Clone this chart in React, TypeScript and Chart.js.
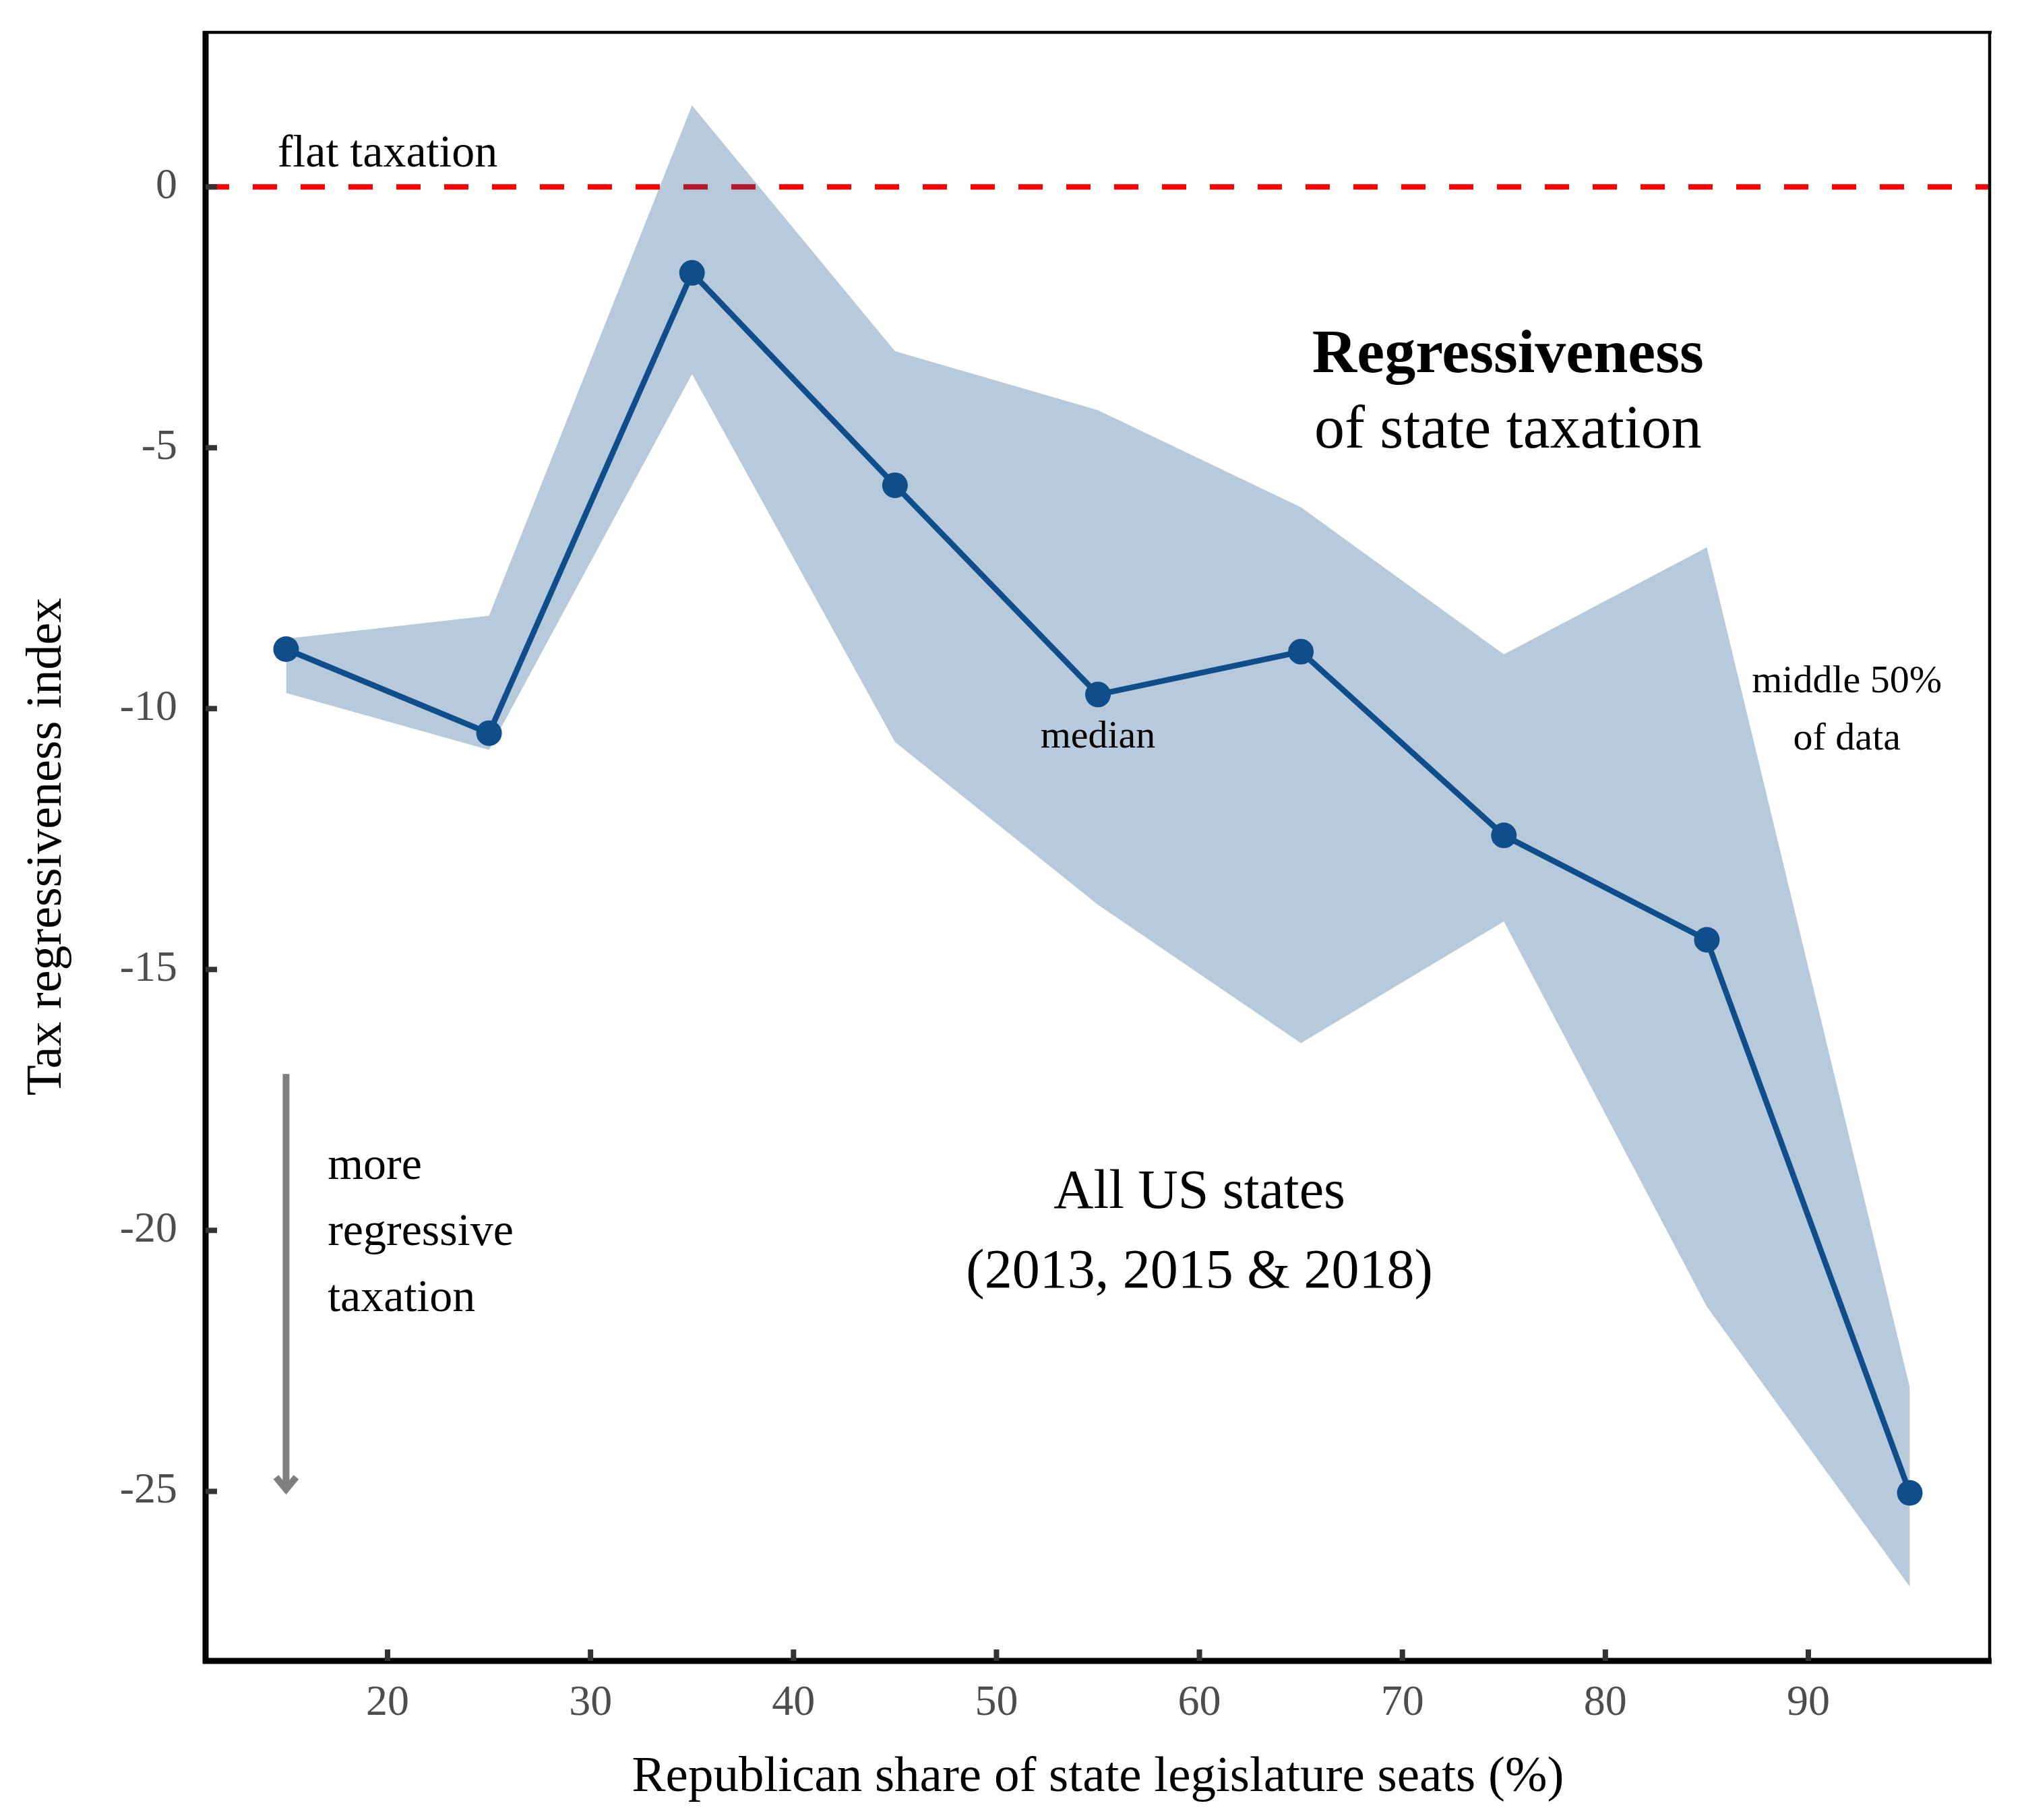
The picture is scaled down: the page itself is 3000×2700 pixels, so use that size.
import React, { useEffect, useRef } from "react";
import { Chart, registerables } from "chart.js";

Chart.register(...registerables);

// ---- data ----
const X_VALUES = [15, 25, 35, 45, 55, 65, 75, 85, 95];
const MEDIAN = [-8.86, -10.47, -1.65, -5.72, -9.73, -8.91, -12.43, -14.43, -25.03];
const UPPER_QUARTILE = [-8.66, -8.22, 1.56, -3.15, -4.28, -6.14, -8.96, -6.91, -23.01];
const LOWER_QUARTILE = [-9.7, -10.79, -3.59, -10.64, -13.76, -16.41, -14.08, -21.46, -26.83];
const FLAT_LEVEL = 0;

const X_TICKS = [20, 30, 40, 50, 60, 70, 80, 90];
const X_TICK_LABELS = ["20", "30", "40", "50", "60", "70", "80", "90"];
const Y_TICKS = [0, -5, -10, -15, -20, -25];
const Y_TICK_LABELS = ["0", "-5", "-10", "-15", "-20", "-25"];
const X_RANGE = [11, 99];
const Y_RANGE = [-28.25, 2.96];

const X_TITLE = "Republican share of state legislature seats (%)";
const Y_TITLE = "Tax regressiveness index";

// ---- styling ----
const FONT = '"Liberation Serif", "Times New Roman", serif';
const LINE_COLOR = "#104E8B";
const BAND_COLOR = "rgba(16,78,139,0.3)";

type Note = { text: string; x: number; y: number; size: number; bold?: boolean; align?: CanvasTextAlign };
const NOTES: Note[] = [
  { text: "flat taxation", x: 20, y: 0.39, size: 68 },
  { text: "Regressiveness", x: 75.2, y: -3.55, size: 92, bold: true },
  { text: "of state taxation", x: 75.2, y: -5.0, size: 90 },
  { text: "median", x: 55, y: -10.74, size: 58 },
  { text: "middle 50%", x: 91.9, y: -9.69, size: 58 },
  { text: "of data", x: 91.9, y: -10.79, size: 58 },
  { text: "more", x: 17.05, y: -19.02, size: 68, align: "left" },
  { text: "regressive", x: 17.05, y: -20.28, size: 68, align: "left" },
  { text: "taxation", x: 17.05, y: -21.55, size: 68, align: "left" },
  { text: "All US states", x: 60, y: -19.57, size: 82 },
  { text: "(2013, 2015 & 2018)", x: 60, y: -21.09, size: 82 },
];
const ARROW = { x: 15, yFrom: -17, yTo: -25 };

const decorPlugin = {
  id: "decor",
  afterDraw(chart: any) {
    const { ctx, chartArea, scales } = chart;
    const xs = scales.x;
    const ys = scales.y;
    const { left, right, top, bottom } = chartArea;
    ctx.save();

    // arrow
    const ax = xs.getPixelForValue(ARROW.x);
    const ay1 = ys.getPixelForValue(ARROW.yFrom);
    const ay2 = ys.getPixelForValue(ARROW.yTo);
    ctx.strokeStyle = "#7f7f7f";
    ctx.lineWidth = 10;
    ctx.lineCap = "butt";
    ctx.beginPath();
    ctx.moveTo(ax, ay1);
    ctx.lineTo(ax, ay2 - 3);
    ctx.stroke();
    ctx.lineJoin = "miter";
    ctx.beginPath();
    ctx.moveTo(ax - 15, ay2 - 21);
    ctx.lineTo(ax, ay2 - 3);
    ctx.lineTo(ax + 15, ay2 - 21);
    ctx.stroke();

    // notes
    ctx.fillStyle = "#000";
    ctx.textBaseline = "alphabetic";
    for (const n of NOTES) {
      ctx.font = `${n.bold ? "bold " : ""}${n.size}px ${FONT}`;
      ctx.textAlign = n.align || "center";
      ctx.fillText(n.text, xs.getPixelForValue(n.x), ys.getPixelForValue(n.y));
    }

    // frame
    ctx.strokeStyle = "#000";
    ctx.lineCap = "butt";
    ctx.lineWidth = 4.5;
    ctx.beginPath();
    ctx.moveTo(left - 3, top);
    ctx.lineTo(right + 1, top);
    ctx.moveTo(right - 2, top);
    ctx.lineTo(right - 2, bottom);
    ctx.stroke();
    ctx.lineWidth = 9;
    ctx.beginPath();
    ctx.moveTo(left + 1, top - 2);
    ctx.lineTo(left + 1, bottom + 4);
    ctx.moveTo(left - 3, bottom);
    ctx.lineTo(right + 1, bottom);
    ctx.stroke();

    // inward ticks
    ctx.strokeStyle = "#333333";
    ctx.lineWidth = 8;
    ctx.beginPath();
    for (const v of X_TICKS) {
      const px = xs.getPixelForValue(v);
      ctx.moveTo(px, bottom);
      ctx.lineTo(px, bottom - 17);
    }
    for (const v of Y_TICKS) {
      const py = ys.getPixelForValue(v);
      ctx.moveTo(left + 1, py);
      ctx.lineTo(left + 18, py);
    }
    ctx.stroke();
    ctx.restore();
  },
};

export default function App() {
  const ref = useRef<HTMLCanvasElement>(null);
  useEffect(() => {
    const canvas = ref.current;
    if (!canvas) return;
    const pts = (ys: number[]) => X_VALUES.map((x, i) => ({ x, y: ys[i] }));
    const chart = new Chart(canvas, {
      type: "line",
      data: {
        datasets: [
          {
            label: "median",
            data: pts(MEDIAN),
            borderColor: LINE_COLOR,
            backgroundColor: LINE_COLOR,
            borderWidth: 8.5,
            pointRadius: 19,
            pointBorderWidth: 0,
            pointBackgroundColor: LINE_COLOR,
            pointBorderColor: LINE_COLOR,
            fill: false,
            tension: 0,
            order: 0,
          },
          {
            label: "upper",
            data: pts(UPPER_QUARTILE),
            borderColor: "rgba(0,0,0,0)",
            borderWidth: 1,
            pointRadius: 0,
            backgroundColor: BAND_COLOR,
            fill: "+1",
            tension: 0,
            order: 1,
          },
          {
            label: "lower",
            data: pts(LOWER_QUARTILE),
            borderColor: "rgba(0,0,0,0)",
            borderWidth: 1,
            pointRadius: 0,
            fill: false,
            tension: 0,
            order: 2,
          },
          {
            label: "flat",
            data: [
              { x: X_RANGE[0], y: FLAT_LEVEL },
              { x: X_RANGE[1], y: FLAT_LEVEL },
            ],
            borderColor: "#ff0000",
            borderWidth: 8,
            borderDash: [36, 35],
            borderCapStyle: "butt",
            pointRadius: 0,
            fill: false,
            order: 3,
          },
        ],
      },
      options: {
        responsive: false,
        animation: false,
        devicePixelRatio: 1,
        layout: { padding: { left: 0, top: 48, right: 46, bottom: 0 } },
        plugins: {
          legend: { display: false },
          tooltip: { enabled: false },
        },
        scales: {
          x: {
            type: "linear",
            min: X_RANGE[0],
            max: X_RANGE[1],
            afterFit: (s: any) => {
              s.height = 236;
              s.paddingLeft = 0;
              s.paddingRight = 0;
            },
            afterBuildTicks: (s: any) => {
              s.ticks = X_TICKS.map((v) => ({ value: v }));
            },
            grid: { display: false, drawTicks: false },
            border: { display: false },
            ticks: {
              padding: 25,
              color: "#4d4d4d",
              font: { family: FONT, size: 64 },
              maxRotation: 0,
              autoSkip: false,
              callback: (v: any) => X_TICK_LABELS[X_TICKS.indexOf(Number(v))] ?? "",
            },
            title: {
              display: true,
              text: X_TITLE,
              color: "#000",
              font: { family: FONT, size: 75 },
              padding: { top: 0, bottom: 18 },
            },
          },
          y: {
            type: "linear",
            min: Y_RANGE[0],
            max: Y_RANGE[1],
            afterFit: (s: any) => {
              s.width = 304;
              s.paddingTop = 0;
              s.paddingBottom = 0;
            },
            afterBuildTicks: (s: any) => {
              s.ticks = Y_TICKS.map((v) => ({ value: v }));
            },
            grid: { display: false, drawTicks: false },
            border: { display: false },
            ticks: {
              padding: 41,
              color: "#4d4d4d",
              font: { family: FONT, size: 64 },
              autoSkip: false,
              callback: (v: any) => Y_TICK_LABELS[Y_TICKS.indexOf(Number(v))] ?? "",
            },
            title: {
              display: true,
              text: Y_TITLE,
              color: "#000",
              font: { family: FONT, size: 74 },
              padding: { top: 26, bottom: 0 },
            },
          },
        },
      },
      plugins: [decorPlugin],
    } as any);
    return () => chart.destroy();
  }, []);
  return (
    <div style={{ position: "absolute", left: 0, top: 0, width: 3000, height: 2700, background: "#fff" }}>
      <canvas ref={ref} width={3000} height={2700} style={{ display: "block", width: 3000, height: 2700 }} />
    </div>
  );
}
